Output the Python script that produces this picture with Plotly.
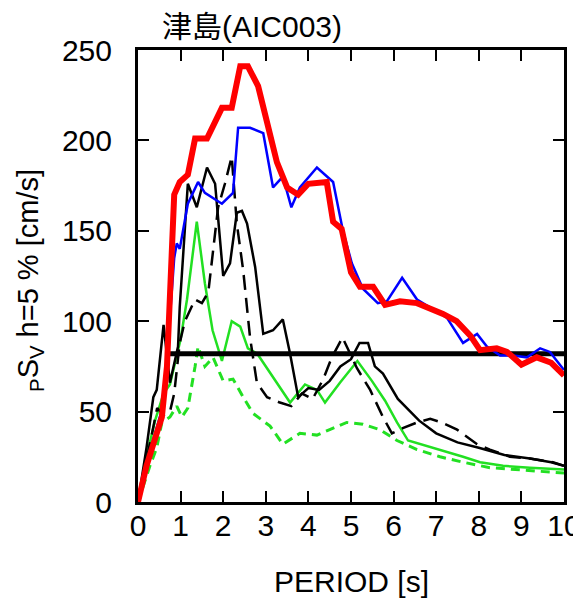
import plotly.graph_objects as go

# ---- data (period [s], pSv [cm/s]) ----
red_x = [0, 0.2, 0.4, 0.56, 0.68, 0.75, 0.8, 0.85, 0.98, 1.17, 1.34, 1.62, 1.97, 2.2, 2.4, 2.58, 2.82, 3.03,
         3.26, 3.5, 3.76, 4.0, 4.43, 4.58, 4.78, 5.0, 5.21, 5.52, 5.8, 6.15, 6.55, 6.85, 7.16, 7.48, 7.8, 8.03,
         8.42, 8.66, 9.0, 9.36, 9.7, 10.0]
red_y = [0, 20, 35, 47, 75, 110, 150, 170, 177, 181, 201, 201, 218, 218, 241, 241, 230, 210,
         188, 174, 170, 176, 177, 155, 151, 127, 119, 119, 109, 111, 110, 107, 104, 100, 92, 84,
         85, 83, 76, 80, 77, 70]

blue_x = [0, 0.2, 0.4, 0.55, 0.65, 0.75, 0.85, 0.91, 0.98, 1.17, 1.41, 1.57, 1.97, 2.23, 2.35, 2.63, 2.94,
          3.17, 3.4, 3.6, 3.8, 4.2, 4.58, 4.81, 5.02, 5.28, 5.63, 5.84, 6.2, 6.55, 7.02, 7.25, 7.63, 7.96,
          8.19, 8.5, 8.8, 9.13, 9.44, 9.67, 10.0]
blue_y = [0, 22, 38, 50, 70, 100, 135, 143, 140, 165, 177, 171, 165, 171, 207, 207, 204,
          174, 180, 163, 174, 185, 177, 150, 132, 118, 110, 111, 124, 112, 105, 102, 88, 93,
          86, 81, 81, 80, 85, 83, 73]

blk_x = [0, 0.1, 0.2, 0.36, 0.44, 0.6, 0.75, 0.94, 0.98, 1.17, 1.38, 1.62, 1.81, 2.0, 2.16, 2.32, 2.44,
         2.56, 2.75, 2.94, 3.17, 3.4, 3.57, 3.76, 4.0, 4.25, 4.5, 4.75, 5.0, 5.2, 5.4, 5.56, 5.75, 6.1,
         6.6, 7.0, 7.5, 8.0, 8.6, 9.2, 9.7, 10.0]
blk_y = [0, 15, 30, 58, 62, 98, 66, 86, 108, 176, 163, 185, 176, 125, 132, 160, 161,
         154, 130, 93, 95, 101, 82, 58, 63, 62, 67, 75, 79, 88, 88, 75, 71, 57,
         45, 38, 33, 30, 26, 24, 22, 20]

blkd_x = [0, 0.1, 0.28, 0.45, 0.6, 0.75, 0.85, 0.98, 1.1, 1.34, 1.5, 1.65, 1.88, 2.04, 2.2, 2.32, 2.47,
          2.63, 2.79, 3.03, 3.33, 3.6, 3.85, 4.1, 4.35, 4.55, 4.8, 5.14, 5.45, 5.75, 5.96, 6.23, 6.55,
          6.86, 7.13, 7.49, 7.96, 8.26, 8.73, 9.2, 9.74, 10.0]
blkd_y = [0, 12, 33, 52, 48, 50, 60, 88, 100, 112, 110, 116, 163, 176, 191, 154, 128,
          91, 66, 58, 55, 53, 60, 57, 68, 80, 91, 74, 62, 47, 38, 41, 44,
          46, 44, 40, 32, 29, 25, 24, 22, 20]

grn_x = [0, 0.2, 0.4, 0.6, 0.75, 0.9, 1.0, 1.15, 1.38, 1.57, 1.75, 1.97, 2.2, 2.4, 2.58, 2.8, 3.0, 3.26,
         3.57, 3.92, 4.2, 4.39, 4.74, 5.15, 5.49, 5.8, 6.08, 6.34, 6.78, 7.25, 7.63, 8.03, 8.57, 9.2, 10.0]
grn_y = [0, 25, 45, 60, 65, 80, 90, 112, 155, 121, 95, 78, 100, 97, 85, 82, 75, 66,
         55, 65, 62, 55, 66, 78, 67, 56, 44, 34, 31, 28, 25, 22, 20, 19, 18]

grnd_x = [0, 0.28, 0.44, 0.56, 0.75, 0.91, 1.03, 1.17, 1.34, 1.41, 1.57, 1.76, 2.0, 2.23, 2.47, 2.7, 3.1,
          3.4, 3.8, 4.2, 4.5, 4.9, 5.28, 5.68, 6.08, 6.55, 7.09, 7.63, 8.26, 8.9, 10.0]
grnd_y = [0, 20, 30, 44, 47, 53, 47, 52, 75, 86, 75, 80, 67, 68, 58, 49, 42,
          32, 38, 37, 40, 44, 43, 40, 34, 29, 25, 22, 19, 18, 16]

level_x = [0.65, 10.0]
level_y = [82, 82]

x_ticks = list(range(0, 11))
y_ticks = [0, 50, 100, 150, 200, 250]

GREEN = "#22e022"

fig = go.Figure()
fig.add_trace(go.Scatter(x=grnd_x, y=grnd_y, mode="lines",
                         line=dict(color=GREEN, width=3, dash="9px,6px")))
fig.add_trace(go.Scatter(x=grn_x, y=grn_y, mode="lines",
                         line=dict(color=GREEN, width=2.5)))
fig.add_trace(go.Scatter(x=blkd_x, y=blkd_y, mode="lines",
                         line=dict(color="black", width=2.5, dash="15px,8px")))
fig.add_trace(go.Scatter(x=blk_x, y=blk_y, mode="lines",
                         line=dict(color="black", width=2.5)))
fig.add_trace(go.Scatter(x=level_x, y=level_y, mode="lines",
                         line=dict(color="black", width=5)))
fig.add_trace(go.Scatter(x=blue_x, y=blue_y, mode="lines",
                         line=dict(color="#0000ff", width=2.5)))
fig.add_trace(go.Scatter(x=red_x, y=red_y, mode="lines",
                         line=dict(color="#ff0000", width=6)))

FONT = "Liberation Sans, Arial, Noto Sans CJK JP, sans-serif"

axis_common = dict(showline=True, linewidth=3, linecolor="black", mirror="allticks",
                   ticks="inside", ticklen=11, tickwidth=2, tickcolor="black",
                   showgrid=False, zeroline=False, automargin=False,
                   tickfont=dict(family=FONT, size=30, color="black"))

fig.update_xaxes(range=[0, 10], tickvals=x_ticks, ticktext=[str(v) for v in x_ticks],
                 ticklabelstandoff=-5, **axis_common)
fig.update_yaxes(range=[0, 250], tickvals=y_ticks, ticktext=[str(v) for v in y_ticks],
                 ticklabelstandoff=17, **axis_common)

# page body has an 8px margin, so the figure is sized to fill the rest of the window
fig.update_layout(
    width=573, height=592,
    margin=dict(l=130, r=17, t=42, b=98, autoexpand=False),
    paper_bgcolor="white", plot_bgcolor="white",
    showlegend=False,
    font=dict(family=FONT, color="black"),
    annotations=[
        dict(text="津島(AIC003)", xref="paper", yref="paper", x=0.052, y=1.051,
             xanchor="left", yanchor="middle", showarrow=False,
             font=dict(family="Liberation Sans, Noto Sans CJK JP, sans-serif", size=30, color="black")),
        dict(text="PERIOD [s]", xref="paper", yref="paper", x=0.5, y=-0.175,
             xanchor="center", yanchor="middle", showarrow=False,
             font=dict(family=FONT, size=30, color="black")),
        dict(text="<sub>P</sub>S<sub>V</sub> h=5 % [cm/s]", xref="paper", yref="paper",
             x=-0.255, y=0.49, xanchor="center", yanchor="middle", textangle=-90,
             showarrow=False, font=dict(family=FONT, size=29, color="black")),
    ],
)

fig.write_html("out.html")
